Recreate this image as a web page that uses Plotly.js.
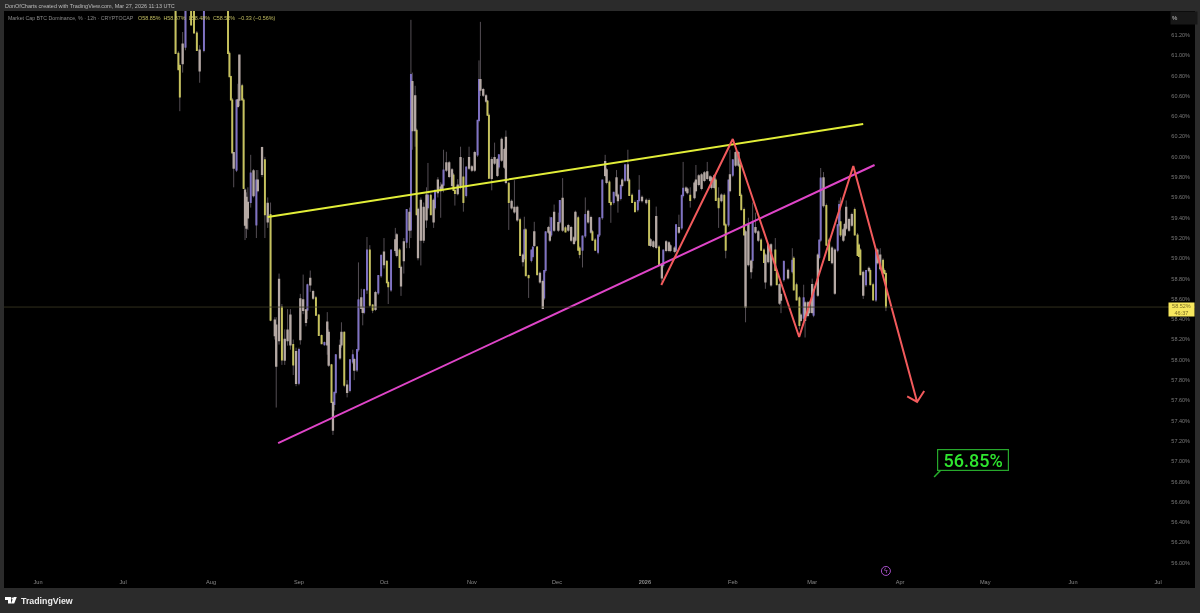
<!DOCTYPE html>
<html>
<head>
<meta charset="utf-8">
<title>BTC Dominance</title>
<script src="https://cdn.plot.ly/plotly-3.0.1.min.js"></script>
<style>html,body{margin:0;padding:0;background:#2b2b2b;overflow:hidden}#chart{filter:blur(0.4px)}</style>
</head>
<body>
<div id="chart" style="width:1200px;height:613px"></div>
<script>
// 12h candles that read as thin purple / yellow strokes
const thinDates = [
'2025-07-19 12:00','2025-07-20 12:00','2025-07-21','2025-07-23','2025-07-25','2025-07-26','2025-07-27','2025-07-29 12:00','2025-08-07','2025-08-07 12:00',
'2025-08-08','2025-08-08 12:00','2025-08-10','2025-08-12','2025-08-12 12:00','2025-08-15','2025-08-17','2025-08-20','2025-08-22','2025-08-26',
'2025-08-30','2025-09-01','2025-09-04','2025-09-07','2025-09-08','2025-09-09','2025-09-10','2025-09-12 12:00','2025-09-13 12:00','2025-09-14',
'2025-09-17','2025-09-19','2025-09-20','2025-09-21 12:00','2025-09-22','2025-09-24','2025-09-25','2025-09-26','2025-09-27','2025-09-29',
'2025-09-30','2025-10-02','2025-10-02 12:00','2025-10-03 12:00','2025-10-06 12:00','2025-10-09','2025-10-10 12:00','2025-10-12 12:00','2025-10-16 12:00','2025-10-17 12:00',
'2025-10-19','2025-10-22','2025-10-25 12:00','2025-10-26','2025-10-29','2025-10-30','2025-11-03','2025-11-03 12:00','2025-11-06 12:00','2025-11-07',
'2025-11-10 12:00','2025-11-14','2025-11-18','2025-11-19 12:00','2025-11-20','2025-11-21','2025-11-22','2025-11-22 12:00','2025-11-24','2025-11-26 12:00',
'2025-11-27','2025-11-29','2025-12-02','2025-12-04','2025-12-08 12:00','2025-12-09','2025-12-10','2025-12-11','2025-12-13 12:00','2025-12-14 12:00',
'2025-12-15 12:00','2025-12-16','2025-12-17','2025-12-19 12:00','2025-12-20','2025-12-21','2025-12-23 12:00','2025-12-25','2025-12-26 12:00','2025-12-27 12:00',
'2025-12-28 12:00','2025-12-29 12:00','2025-12-30','2026-01-02 12:00','2026-01-06','2026-01-07 12:00','2026-01-12','2026-01-14','2026-01-14 12:00','2026-01-17',
'2026-01-26','2026-01-27','2026-01-29','2026-01-29 12:00','2026-01-30 12:00','2026-02-01','2026-02-03 12:00','2026-02-04','2026-02-05','2026-02-08',
'2026-02-11','2026-02-12','2026-02-16','2026-02-16 12:00','2026-02-19','2026-02-22','2026-02-22 12:00','2026-02-23 12:00','2026-02-24 12:00','2026-02-26',
'2026-03-01 12:00','2026-03-03 12:00','2026-03-04','2026-03-06','2026-03-07','2026-03-10','2026-03-10 12:00','2026-03-11','2026-03-16','2026-03-17',
'2026-03-17 12:00','2026-03-18','2026-03-20','2026-03-21 12:00','2026-03-22 12:00','2026-03-23 12:00','2026-03-26','2026-03-26 12:00','2026-03-27'
];
const thinOpen = [
61.60,61.02,60.90,61.08,61.60,61.45,61.22,61.05,61.60,61.02,
60.79,60.56,59.87,60.70,60.56,59.55,59.33,59.97,59.43,58.52,
58.15,57.77,58.49,58.61,58.44,58.24,58.15,57.95,57.56,57.68,
58.27,57.70,57.98,57.90,58.10,58.47,58.69,59.08,58.54,58.66,
58.83,58.97,58.76,58.69,59.08,59.16,59.28,60.26,59.50,59.62,
59.50,59.72,59.82,59.67,59.80,59.62,60.02,60.36,60.55,60.41,
59.90,59.74,59.38,59.00,59.28,58.83,58.98,59.02,59.11,58.61,
58.88,59.23,59.36,59.30,59.40,59.10,59.08,59.22,59.26,59.18,
59.06,59.23,59.40,59.75,59.55,59.55,59.59,59.77,59.77,59.62,
59.55,59.48,59.57,59.57,59.11,58.93,59.08,59.30,59.62,59.62,
59.77,59.59,59.62,59.33,59.33,59.82,59.92,59.62,59.48,58.98,
59.18,59.08,59.08,58.88,58.79,58.87,59.00,58.74,58.61,58.41,
58.44,59.01,59.18,59.52,59.18,59.08,59.33,59.36,59.48,59.23,
59.13,59.08,58.74,58.88,58.74,58.59,58.98,58.88,58.85
];
const thinHigh = [
61.75,61.04,60.92,61.70,61.70,61.50,61.24,61.70,61.70,61.04,
60.80,60.58,60.56,60.72,60.58,60.02,59.87,60.00,59.55,58.55,
58.20,58.12,58.75,58.63,58.45,58.25,58.18,57.96,57.68,58.05,
58.28,58.00,58.10,58.10,58.96,58.70,59.21,59.13,58.55,58.83,
59.03,58.98,58.78,59.08,59.10,59.48,61.35,60.28,59.94,59.64,
59.67,60.07,59.84,59.68,59.99,59.90,60.36,60.95,60.56,60.43,
60.02,59.75,59.40,59.41,59.30,58.84,59.08,59.11,59.12,58.88,
59.26,59.40,59.57,59.32,59.42,59.12,59.22,59.60,59.28,59.20,
59.23,59.40,59.77,59.77,59.57,59.65,59.72,59.92,59.79,59.64,
59.57,59.57,59.82,59.59,59.13,59.08,59.33,59.62,59.95,59.70,
59.79,59.70,59.64,59.35,59.77,59.97,59.94,59.64,59.50,59.55,
59.20,59.10,59.20,58.90,58.97,59.10,59.02,58.76,58.63,58.74,
58.69,59.18,59.89,59.54,59.20,59.33,59.57,59.60,59.50,59.25,
59.15,59.10,58.88,58.90,58.76,59.10,59.00,58.90,58.87
];
const thinLow = [
61.02,60.86,60.45,61.05,61.30,61.22,61.05,61.03,61.02,60.79,
60.56,60.04,59.85,60.56,59.69,59.50,59.20,59.20,58.38,57.95,
57.85,57.75,58.40,58.44,58.24,58.16,58.14,57.58,57.50,57.66,
57.73,57.68,57.96,57.88,58.08,58.45,58.65,58.52,58.46,58.64,
58.81,58.76,58.55,58.67,58.91,59.10,59.20,59.43,59.48,59.43,
59.48,59.65,59.67,59.52,59.46,59.60,60.00,60.34,60.41,59.79,
59.88,59.28,59.03,58.98,58.83,58.61,58.96,59.00,58.84,58.59,
58.86,59.21,59.34,59.26,59.08,59.00,58.91,59.20,59.18,59.08,
59.04,59.21,59.38,59.55,59.35,59.53,59.57,59.75,59.62,59.55,
59.46,59.46,59.55,59.13,58.93,58.91,59.06,59.28,59.60,59.50,
59.57,59.30,59.33,59.00,59.31,59.80,59.62,59.48,59.23,58.90,
59.08,58.96,58.88,58.74,58.77,58.85,58.69,58.59,58.30,58.38,
58.42,58.99,59.16,59.13,58.98,59.06,59.31,59.21,59.23,59.03,
59.02,58.84,58.72,58.74,58.59,58.57,58.84,58.85,58.48
];
const thinClose = [
61.02,60.86,60.59,61.60,61.30,61.22,61.05,61.60,61.02,60.79,
60.56,60.04,60.56,60.56,59.69,59.84,59.77,59.43,58.39,58.00,
57.95,58.10,58.74,58.44,58.24,58.16,58.17,57.58,57.68,58.05,
57.75,58.00,58.05,58.10,58.59,58.69,59.08,58.54,58.49,58.83,
59.03,58.76,58.72,59.08,58.91,59.48,60.81,59.43,59.62,59.43,
59.67,59.87,59.67,59.64,59.55,59.90,60.36,60.76,60.41,59.79,
60.02,59.55,59.03,59.28,58.83,58.81,59.08,59.11,58.84,58.88,
59.26,59.40,59.57,59.26,59.08,59.04,59.22,59.43,59.18,59.08,
59.23,59.40,59.77,59.55,59.53,59.65,59.72,59.92,59.62,59.55,
59.46,59.57,59.67,59.13,58.93,59.08,59.33,59.62,59.69,59.57,
59.57,59.50,59.33,59.08,59.77,59.97,59.62,59.48,59.23,59.36,
59.08,58.96,58.88,58.74,58.97,58.98,58.69,58.59,58.34,58.61,
58.69,59.18,59.79,59.13,58.98,59.33,59.53,59.23,59.23,59.03,
59.02,58.84,58.88,58.74,58.59,59.08,58.86,58.85,58.52
];

// 12h candles that read as wider tan blocks
const wideDates = [
'2025-07-22','2025-07-28','2025-08-09','2025-08-10 12:00','2025-08-11','2025-08-13','2025-08-13 12:00','2025-08-14','2025-08-16','2025-08-17 12:00',
'2025-08-19','2025-08-21','2025-08-23 12:00','2025-08-24','2025-08-25','2025-08-27','2025-08-28','2025-08-29','2025-08-31','2025-09-01 12:00',
'2025-09-02 12:00','2025-09-03 12:00','2025-09-05','2025-09-06','2025-09-11','2025-09-11 12:00','2025-09-13','2025-09-15 12:00','2025-09-16','2025-09-18',
'2025-09-20 12:00','2025-09-23','2025-09-23 12:00','2025-09-28','2025-10-01','2025-10-05','2025-10-05 12:00','2025-10-07','2025-10-08','2025-10-10',
'2025-10-11','2025-10-12','2025-10-13','2025-10-14','2025-10-15','2025-10-16','2025-10-18 12:00','2025-10-20','2025-10-21','2025-10-21 12:00',
'2025-10-23','2025-10-24','2025-10-25','2025-10-27','2025-10-28','2025-10-31','2025-11-01','2025-11-02','2025-11-04','2025-11-05',
'2025-11-06','2025-11-08','2025-11-09','2025-11-10','2025-11-11 12:00','2025-11-12 12:00','2025-11-13','2025-11-15','2025-11-16','2025-11-17',
'2025-11-19','2025-11-23','2025-11-25','2025-11-26','2025-11-28','2025-11-28 12:00','2025-11-30','2025-12-01 12:00','2025-12-03','2025-12-05',
'2025-12-06','2025-12-07','2025-12-07 12:00','2025-12-12','2025-12-13','2025-12-18','2025-12-18 12:00','2025-12-22','2025-12-22 12:00','2025-12-24',
'2025-12-26','2025-12-31','2026-01-01 12:00','2026-01-03','2026-01-04','2026-01-05','2026-01-07','2026-01-08 12:00','2026-01-09 12:00','2026-01-10',
'2026-01-11 12:00','2026-01-13','2026-01-15 12:00','2026-01-16','2026-01-18 12:00','2026-01-19','2026-01-20','2026-01-21','2026-01-22','2026-01-23',
'2026-01-24','2026-01-24 12:00','2026-01-25 12:00','2026-01-28','2026-01-31','2026-02-02','2026-02-03','2026-02-05 12:00','2026-02-06 12:00','2026-02-07 12:00',
'2026-02-09','2026-02-10','2026-02-12 12:00','2026-02-13 12:00','2026-02-14 12:00','2026-02-17 12:00','2026-02-18','2026-02-20 12:00','2026-02-25','2026-02-26 12:00',
'2026-02-27 12:00','2026-02-28','2026-03-01','2026-03-03','2026-03-05','2026-03-08','2026-03-09','2026-03-12','2026-03-12 12:00','2026-03-13',
'2026-03-14','2026-03-15','2026-03-19','2026-03-21','2026-03-24','2026-03-25'
];
const wideOpen = [
60.92,61.05,60.04,60.50,60.56,59.67,59.30,59.55,59.86,59.77,
59.83,59.36,58.39,58.34,58.19,58.00,58.19,58.15,58.08,58.20,
58.59,58.49,58.74,58.67,58.15,58.27,57.58,58.02,58.15,57.75,
58.00,58.61,58.51,58.50,58.94,59.08,59.23,58.91,58.98,59.28,
60.26,60.60,59.48,59.18,59.50,59.38,59.36,59.65,59.70,59.68,
59.87,59.94,59.87,59.64,59.72,59.89,59.90,59.87,60.66,60.66,
60.60,59.97,59.94,59.97,59.97,60.07,59.75,59.56,59.50,59.50,
59.03,59.13,58.85,58.77,59.26,59.18,59.28,59.35,59.59,59.28,
59.30,59.20,59.18,59.36,59.40,59.82,59.87,59.62,59.62,59.72,
59.92,59.60,59.57,59.18,59.16,59.11,58.93,59.08,59.15,59.08,
59.10,59.30,59.69,59.68,59.60,59.67,59.73,59.82,59.77,59.79,
59.80,59.79,59.70,59.57,59.67,59.92,60.04,59.26,58.94,58.97,
59.30,59.26,59.03,58.97,59.13,58.74,58.64,58.88,58.39,58.56,
58.44,58.56,58.47,58.64,59.79,59.10,59.08,59.28,59.23,59.30,
59.38,59.33,58.86,58.88,59.08,58.90
];
const wideHigh = [
61.23,61.10,60.04,60.72,61.00,59.69,59.65,59.70,59.88,59.87,
60.10,59.60,58.42,58.42,58.85,58.30,58.50,58.50,58.12,58.65,
58.84,58.50,58.88,58.69,58.47,58.30,57.58,58.20,58.37,57.80,
58.02,58.70,58.53,58.68,59.20,59.30,59.25,58.93,59.20,59.50,
60.83,60.70,59.50,59.60,59.55,59.70,59.59,59.80,59.75,59.74,
60.05,59.96,59.89,59.78,60.10,60.10,59.92,60.06,61.33,60.68,
60.62,60.00,60.14,59.99,60.19,60.09,60.26,59.58,59.77,59.52,
59.05,59.36,58.87,58.79,59.32,59.41,59.53,59.45,59.79,59.34,
59.32,59.22,59.47,59.48,59.42,60.02,59.89,59.87,59.64,59.79,
60.07,59.62,59.59,59.20,59.18,59.51,58.95,59.18,59.17,59.14,
59.12,59.43,59.71,59.70,59.76,59.92,59.83,59.84,59.86,59.95,
59.82,59.81,59.83,59.64,60.07,60.06,60.06,59.28,59.40,58.99,
59.45,59.28,59.05,59.15,59.15,58.76,58.66,58.90,58.46,58.58,
58.58,58.58,58.80,59.05,59.85,59.12,59.10,59.30,59.35,59.57,
59.40,59.45,58.88,58.92,59.10,59.10
];
const wideLow = [
60.83,60.73,59.70,60.48,60.50,59.18,59.20,59.28,59.60,59.65,
59.80,59.30,58.20,57.53,58.15,57.95,58.14,58.10,57.74,58.15,
58.45,58.33,58.67,58.59,58.05,57.93,57.26,58.00,58.12,57.63,
57.80,58.50,58.34,58.48,58.90,59.05,59.01,58.63,58.85,59.10,
60.07,60.10,58.98,58.93,59.15,59.30,59.30,59.60,59.40,59.66,
59.85,59.79,59.70,59.62,59.68,59.87,59.85,59.85,60.60,60.59,
60.53,59.67,59.92,59.80,59.95,59.88,59.73,59.48,59.44,59.36,
58.92,59.11,58.75,58.50,59.24,59.16,59.26,59.26,59.26,59.26,
59.16,59.13,59.16,59.34,59.24,59.80,59.73,59.60,59.45,59.70,
59.75,59.55,59.53,59.11,59.10,59.09,58.77,59.06,59.06,59.06,
59.05,59.24,59.65,59.63,59.58,59.65,59.71,59.67,59.75,59.77,
59.75,59.68,59.68,59.55,59.65,59.90,59.90,58.37,58.92,58.80,
59.24,59.16,58.70,58.95,58.72,58.54,58.46,58.79,58.37,58.22,
58.42,58.45,58.45,58.62,59.50,58.94,58.64,59.16,59.21,59.28,
59.26,59.31,58.60,58.86,58.94,58.88
];
const wideClose = [
61.11,60.85,59.89,60.56,61.00,59.33,59.60,59.40,59.62,59.67,
60.09,59.54,58.24,57.94,58.79,58.20,58.29,58.44,57.77,58.60,
58.49,58.37,58.80,58.61,58.37,57.95,57.31,58.14,58.27,57.68,
57.90,58.51,58.47,58.66,59.06,59.18,59.03,58.73,59.16,59.45,
60.74,60.26,59.01,59.57,59.18,59.62,59.57,59.77,59.67,59.72,
59.94,59.81,59.72,59.72,59.99,59.99,59.87,60.04,60.76,60.61,
60.55,59.79,59.99,59.82,60.17,59.90,60.19,59.50,59.46,59.38,
58.97,59.26,58.77,58.51,59.30,59.26,59.45,59.28,59.28,59.32,
59.18,59.15,59.45,59.46,59.26,59.95,59.75,59.79,59.57,59.77,
59.77,59.57,59.55,59.13,59.12,59.41,58.81,59.16,59.08,59.12,
59.07,59.26,59.67,59.65,59.74,59.77,59.81,59.69,59.84,59.85,
59.77,59.70,59.81,59.62,59.82,60.04,59.92,58.52,59.33,58.87,
59.26,59.18,58.77,59.13,58.74,58.56,58.59,58.81,58.44,58.39,
58.56,58.47,58.74,59.03,59.52,58.96,58.66,59.18,59.33,59.50,
59.28,59.43,58.64,58.90,58.96,59.03
];

// trendlines and the projected path
const upperDates = ['2025-08-21','2026-03-19'];
const upperValues = [59.407,60.323];
const lowerDates = ['2025-08-24 16:00','2026-03-23'];
const lowerValues = [57.18,59.92];
const pathDates = ['2026-01-06 19:00','2026-02-01','2026-02-24 10:00','2026-03-15 12:00','2026-04-07','2026-04-03 12:00','2026-04-07','2026-04-09 12:00'];
const pathValues = [58.737,60.176,58.225,59.91,57.585,57.64,57.585,57.693];
const calloutTailDates = ['2026-04-15 05:00','2026-04-13'];
const calloutTailValues = [56.91,56.845];

const lastPrice = 58.52;
const priceTicks = [56.0,56.2,56.4,56.6,56.8,57.0,57.2,57.4,57.6,57.8,58.0,58.2,58.4,58.6,58.8,59.0,59.2,59.4,59.6,59.8,60.0,60.2,60.4,60.6,60.8,61.0,61.2];
const priceLabels = ['56.00%','56.20%','56.40%','56.60%','56.80%','57.00%','57.20%','57.40%','57.60%','57.80%','58.00%','58.20%','58.40%','58.60%','58.80%','59.00%','59.20%','59.40%','59.60%','59.80%','60.00%','60.20%','60.40%','60.60%','60.80%','61.00%','61.20%'];
const monthTicks = ['2025-06-01','2025-07-01','2025-08-01','2025-09-01','2025-10-01','2025-11-01','2025-12-01','2026-01-01','2026-02-01','2026-03-01','2026-04-01','2026-05-01','2026-06-01','2026-07-01'];
const monthLabels = ['Jun','Jul','Aug','Sep','Oct','Nov','Dec','<b>2026</b>','Feb','Mar','Apr','May','Jun','Jul'];

const W = 1200, H = 613;
const M = { l: 4, r: 5, t: 11, b: 25 };
const FONT = '"Liberation Sans", Arial, sans-serif';
const px = x => (x - M.l) / (W - M.l - M.r);
const py = y => 1 - (y - M.t) / (H - M.t - M.b);

function wicks(x, o, h, l, c) {
  const line = { color: '#544e54', width: 1 };
  return {
    type: 'candlestick', x, open: o, high: h, low: l, close: c, whiskerwidth: 0,
    increasing: { line, fillcolor: '#544e54' },
    decreasing: { line, fillcolor: '#544e54' },
    hoverinfo: 'skip'
  };
}

function bodies(x, o, c, upColor, downColor, width) {
  return {
    type: 'candlestick', x, open: o, close: c,
    high: o.map((v, i) => Math.max(v, c[i])),
    low: o.map((v, i) => Math.min(v, c[i])),
    whiskerwidth: 0,
    increasing: { line: { color: upColor, width }, fillcolor: upColor },
    decreasing: { line: { color: downColor, width }, fillcolor: downColor },
    hoverinfo: 'skip'
  };
}

function lineTrace(x, y, color, width) {
  return { type: 'scatter', mode: 'lines', x, y, line: { color, width }, hoverinfo: 'skip' };
}

function label(x, y, text, size, color, anchor, extra) {
  return Object.assign({
    xref: 'paper', yref: 'paper', x: px(x), y: py(y), text, showarrow: false,
    xanchor: anchor || 'left', yanchor: 'middle', align: 'left',
    font: { family: FONT, size, color }
  }, extra || {});
}

function logoPath(d) {
  return { type: 'path', xref: 'paper', yref: 'paper', path: d, fillcolor: '#ffffff', line: { width: 0 }, layer: 'above' };
}

const traces = [
  wicks(thinDates, thinOpen, thinHigh, thinLow, thinClose),
  wicks(wideDates, wideOpen, wideHigh, wideLow, wideClose),
  bodies(thinDates, thinOpen, thinClose, '#7f72c4', '#c6c25c', 1.2),
  bodies(wideDates, wideOpen, wideClose, '#b5a9a4', '#b5a9a4', 1.6),
  lineTrace(upperDates, upperValues, '#e2ee38', 2),
  lineTrace(lowerDates, lowerValues, '#df45c8', 2),
  lineTrace(pathDates, pathValues, '#f25a5c', 2),
  lineTrace(calloutTailDates, calloutTailValues, '#27b02c', 1.5),
  {
    type: 'scatter', mode: 'markers+text', x: ['2026-03-27'], y: [55.92], text: ['ϟ'],
    textposition: 'middle center', textfont: { size: 7, color: '#b45ad2', family: 'DejaVu Sans' },
    marker: { symbol: 'circle-open', size: 9, color: '#a64fc8', line: { width: 1, color: '#a64fc8' } },
    hoverinfo: 'skip'
  }
];

const layout = {
  width: W, height: H, margin: M, showlegend: false,
  paper_bgcolor: '#2b2b2b', plot_bgcolor: '#000000',
  font: { family: FONT },
  xaxis: {
    type: 'date', range: ['2025-05-20', '2026-07-14'], rangeslider: { visible: false },
    tickmode: 'array', tickvals: monthTicks, ticktext: monthLabels, ticks: '',
    ticklabelposition: 'inside', showgrid: false, zeroline: false, showline: false,
    tickfont: { size: 5.6, color: '#8a8a8a', family: FONT }, ticklabelstandoff: 0
  },
  yaxis: {
    side: 'right', range: [55.752, 61.437], tickmode: 'array', tickvals: priceTicks, ticktext: priceLabels,
    ticks: '', ticklabelposition: 'inside',
    showgrid: false, zeroline: false, showline: false, ticklabelstandoff: 2,
    tickfont: { size: 5.5, color: '#7a7a7a', family: FONT }
  },
  shapes: [
    { type: 'line', xref: 'paper', yref: 'y', x0: 0, x1: 1, y0: lastPrice, y1: lastPrice, layer: 'above', line: { color: '#3d3b25', width: 0.8 } },
    // TradingView logo: bar, dot, slash
    logoPath(`M${px(5)},${py(597)} L${px(11)},${py(597)} L${px(11)},${py(603.5)} L${px(8)},${py(603.5)} L${px(8)},${py(600)} L${px(5)},${py(600)} Z`),
    logoPath(`M${px(11.6)},${py(597.6)} L${px(13.2)},${py(597.6)} L${px(13.2)},${py(599.4)} L${px(11.6)},${py(599.4)} Z`),
    logoPath(`M${px(13.6)},${py(597)} L${px(16.8)},${py(597)} L${px(14.2)},${py(603.5)} L${px(11)},${py(603.5)} Z`)
  ],
  annotations: [
    label(3, 6, 'DonOfCharts created with TradingView.com, Mar 27, 2026 11:13 UTC', 5.5, '#bcbcbc'),
    label(6, 17.5, 'Market Cap BTC Dominance, % · 12h · CRYPTOCAP', 5.25, '#8a8a8a'),
    label(136, 17.5, 'O58.85%  H58.87%  L58.48%  C58.52%  −0.33 (−0.56%)', 5.4, '#c4bf62'),
    label(1170, 18, '%', 6, '#c4c4c4', 'left', { bgcolor: '#181818', width: 24, height: 10, align: 'left' }),
    label(1181.5, 309.7, '58.52%<br>46:37', 5.5, '#7a6c24', 'center', { bgcolor: '#f7e75e', width: 25, height: 13, align: 'center', borderpad: 0 }),
    label(19, 600.5, '<b>TradingView</b>', 8.8, '#ececec'),
    {
      x: '2026-04-26 19:00', y: 57.018, xref: 'x', yref: 'y', text: '56.85%', showarrow: false,
      font: { family: 'Roboto', size: 18, weight: 500, color: '#2fe62f' },
      bgcolor: '#000000', bordercolor: '#27a82c', borderwidth: 1.2, borderpad: 0, width: 70, height: 20
    }
  ]
};

Plotly.newPlot('chart', traces, layout, { displayModeBar: false, staticPlot: true });
</script>
</body>
</html>
